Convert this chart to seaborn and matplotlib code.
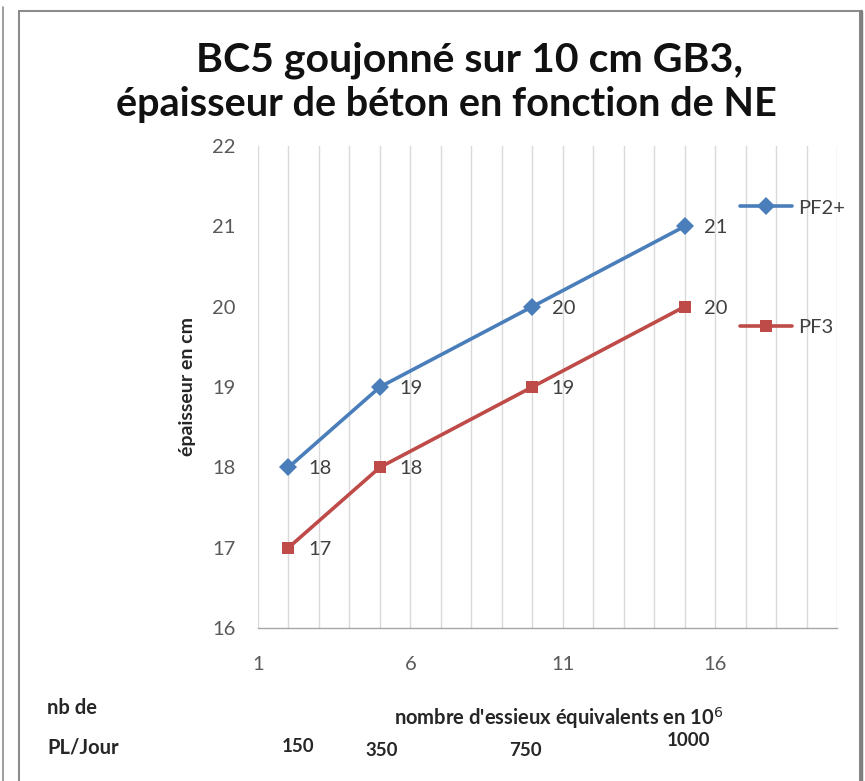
import seaborn as sns
import matplotlib.pyplot as plt
import matplotlib.patches as patches
import pandas as pd

# chart values
ne_values = [2, 5, 10, 15]
pf2_values = [18, 19, 20, 21]
pf3_values = [17, 18, 19, 20]
series_names = ['PF2+', 'PF3']
pl_jour = ['150', '350', '750', '1000']
x_ticks = [1, 6, 11, 16]
y_ticks = [16, 17, 18, 19, 20, 21, 22]

blue = '#4A7EBB'
red = '#BE4B48'
tick_grey = '#595959'

df = pd.DataFrame({
    'NE': ne_values * 2,
    'epaisseur': pf2_values + pf3_values,
    'serie': [series_names[0]] * 4 + [series_names[1]] * 4,
})

sns.set_style('white')
plt.rcParams['font.family'] = ['Lato', 'DejaVu Sans']

fig = plt.figure(figsize=(8.65, 7.81), dpi=100)
ax = fig.add_axes([258 / 865, 1 - 628 / 781, (837 - 258) / 865, (628 - 146) / 781])

sns.lineplot(data=df, x='NE', y='epaisseur', hue='serie', style='serie',
             markers={'PF2+': 'D', 'PF3': 's'}, dashes=False,
             palette={'PF2+': blue, 'PF3': red}, linewidth=2.6,
             markersize=9, markeredgewidth=0, ax=ax)

# data labels
for xs, ys in [(ne_values, pf2_values), (ne_values, pf3_values)]:
    for xv, yv in zip(xs, ys):
        ax.annotate(str(yv), (xv, yv), xytext=(14, -1), textcoords='offset points',
                    va='center', ha='left', fontsize=14.5, color='#404040')

ax.set_xlim(1, 20)
ax.set_ylim(16, 22)
ax.set_xticks(x_ticks)
ax.set_yticks(y_ticks)
ax.set_xticks(range(1, 21), minor=True)
ax.grid(True, axis='x', which='both', color='#D9D9D9', linewidth=1)
ax.grid(False, axis='y')
ax.set_axisbelow(True)
for s in ['top', 'right', 'left']:
    ax.spines[s].set_visible(False)
ax.spines['bottom'].set_color('#A6A6A6')
ax.spines['bottom'].set_linewidth(1)
ax.tick_params(axis='x', which='both', length=0, pad=20, labelsize=14.5, labelcolor=tick_grey)
ax.tick_params(axis='y', length=0, pad=16, labelsize=14.5, labelcolor=tick_grey)

ax.set_xlabel('')
ax.set_ylabel('épaisseur en cm', fontsize=14, fontweight='bold', color='#262626', labelpad=12)

leg = ax.legend(loc='upper left', bbox_to_anchor=(0.815, 0.91), frameon=False,
                fontsize=14.5, labelspacing=5.1, handlelength=2.6, handletextpad=0.3,
                borderpad=0, labelcolor='#404040')

fig.text(469 / 865, 0.923, 'BC5 goujonné sur 10 cm GB3,', ha='center', va='center',
         fontsize=29.5, fontweight='bold', color='#111111')
fig.text(446 / 865, 0.866, 'épaisseur de béton en fonction de NE', ha='center', va='center',
         fontsize=28.5, fontweight='bold', color='#111111')

fig.text(559 / 865, 1 - 718 / 781, "nombre d'essieux équivalents en 10$^6$", ha='center',
         va='center', fontsize=14.5, fontweight='bold', color='#262626')
fig.text(47 / 865, 1 - 708 / 781, 'nb de', ha='left', va='center', fontsize=14.5,
         fontweight='bold', color='#262626')
fig.text(47 / 865, 1 - 747 / 781, 'PL/Jour', ha='left', va='center', fontsize=14.5,
         fontweight='bold', color='#262626')
pl_pos = [(298, 747), (382, 751), (525, 751), (688, 741)]
for lab, (px, py) in zip(pl_jour, pl_pos):
    fig.text(px / 865, 1 - py / 781, lab, ha='center', va='center', fontsize=13.5,
             fontweight='bold', color='#262626')

# surrounding frames
fig.add_artist(patches.Rectangle((19 / 865, -0.05), (860 - 19) / 865, 1.05 - 11 / 781,
                                 transform=fig.transFigure, fill=False,
                                 edgecolor='#8C8C8C', linewidth=1.5))
fig.add_artist(plt.Line2D([861 / 865, 861 / 865], [0, 1 - 11 / 781], transform=fig.transFigure,
                          color='#7F7F7F', linewidth=2.5))
fig.add_artist(plt.Line2D([3 / 865, 3 / 865], [0, 1 - 7 / 781], transform=fig.transFigure,
                          color='#8C8C8C', linewidth=1.2))

plt.savefig('out.png', dpi=100)
